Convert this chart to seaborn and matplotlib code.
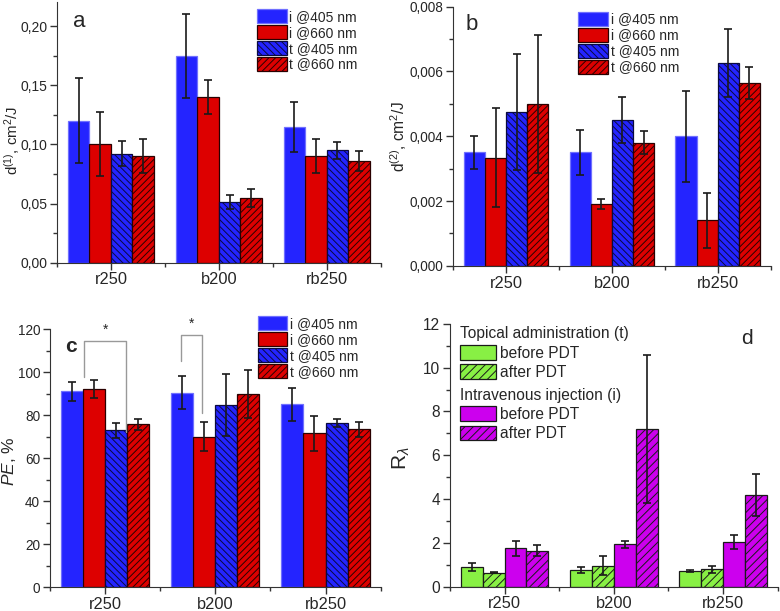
import numpy as np
import pandas as pd
import matplotlib
matplotlib.use("Agg")
import matplotlib.pyplot as plt
import seaborn as sns
from matplotlib.container import BarContainer
from matplotlib.ticker import FuncFormatter, MultipleLocator

# ---------------- data ----------------
groups = ["r250", "b200", "rb250"]
series_ab = ["i @405 nm", "i @660 nm", "t @405 nm", "t @660 nm"]

# panel a: d(1), cm2/J
d1_i405 = [0.120, 0.175, 0.115]
d1_i660 = [0.100, 0.140, 0.090]
d1_t405 = [0.092, 0.051, 0.095]
d1_t660 = [0.090, 0.055, 0.086]
d1_i405_err = [0.036, 0.0355, 0.021]
d1_i660_err = [0.027, 0.0144, 0.0145]
d1_t405_err = [0.0105, 0.006, 0.007]
d1_t660_err = [0.0143, 0.0075, 0.0087]

# panel b: d(2), cm2/J
d2_i405 = [0.0035, 0.0035, 0.0040]
d2_i660 = [0.00333, 0.0019, 0.0014]
d2_t405 = [0.00475, 0.0045, 0.00625]
d2_t660 = [0.0050, 0.0038, 0.00565]
d2_i405_err = [0.0005, 0.0007, 0.0014]
d2_i660_err = [0.00153, 0.00015, 0.00085]
d2_t405_err = [0.00178, 0.0007, 0.00105]
d2_t660_err = [0.00213, 0.00036, 0.0005]

# panel c: PE, %
pe_i405 = [91.0, 90.4, 85.0]
pe_i660 = [92.0, 70.0, 71.5]
pe_t405 = [72.9, 84.7, 76.2]
pe_t660 = [75.7, 89.7, 73.4]
pe_i405_err = [4.3, 7.6, 7.6]
pe_i660_err = [4.1, 6.7, 8.1]
pe_t405_err = [3.5, 14.5, 1.8]
pe_t660_err = [2.6, 11.2, 3.5]

# panel d: R_lambda
series_d = ["t before PDT", "t after PDT", "i before PDT", "i after PDT"]
r_t_before = [0.88, 0.75, 0.72]
r_t_after = [0.64, 0.96, 0.79]
r_i_before = [1.75, 1.93, 2.04]
r_i_after = [1.63, 7.20, 4.17]
r_t_before_err = [0.18, 0.14, 0.05]
r_t_after_err = [0.04, 0.44, 0.15]
r_i_before_err = [0.34, 0.15, 0.32]
r_i_after_err = [0.25, 3.37, 0.96]

# ---------------- style ----------------
sns.set_style("ticks")
plt.rcParams["font.family"] = ["Liberation Sans", "DejaVu Sans"]
plt.rcParams["mathtext.fontset"] = "custom"
plt.rcParams["mathtext.rm"] = "Liberation Sans"
plt.rcParams["mathtext.it"] = "Liberation Sans:italic"
plt.rcParams["hatch.linewidth"] = 0.7
plt.rcParams["axes.edgecolor"] = "#333333"

BLUE = "#2424FF"
RED = "#DD0000"
GREEN = "#88F044"
MAGENTA = "#CC00EE"
DARK = "#1a1a1a"

fig = plt.figure(figsize=(7.8, 6.11), dpi=100)
ax_a = fig.add_axes([0.073, 0.570, 0.415, 0.426])
ax_b = fig.add_axes([0.581, 0.565, 0.407, 0.424])
ax_c = fig.add_axes([0.064, 0.039, 0.424, 0.4225])
ax_d = fig.add_axes([0.577, 0.040, 0.420, 0.430])


def make_df(series_names, vals):
    rows = []
    for s, v in zip(series_names, vals):
        for g, y in zip(groups, v):
            rows.append({"group": g, "series": s, "value": y})
    return pd.DataFrame(rows)


def draw_panel(ax, series_names, vals, errs, colors, hatches, edgecolors,
               ytick_size):
    df = make_df(series_names, vals)
    sns.barplot(data=df, x="group", y="value", hue="series",
                hue_order=series_names, order=groups,
                palette=dict(zip(series_names, colors)),
                width=0.8, errorbar=None, saturation=1.0, ax=ax)
    if ax.get_legend() is not None:
        ax.get_legend().remove()
    bars = [c for c in ax.containers if isinstance(c, BarContainer)]
    for cont, h, ec, err in zip(bars, hatches, edgecolors, errs):
        xs, ys = [], []
        for bar in cont.patches:
            bar.set_hatch(h)
            bar.set_edgecolor(ec)
            bar.set_linewidth(0.9)
            xs.append(bar.get_x() + bar.get_width() / 2)
            ys.append(bar.get_height())
        ax.errorbar(xs, ys, yerr=err, fmt="none", ecolor=DARK,
                    elinewidth=1.2, capsize=3.0, capthick=1.2, zorder=5)
    ax.set_xlim(-0.5, 2.5)
    ax.set_xlabel("")
    ax.set_xticks([0, 1, 2])
    ax.set_xticklabels(groups)
    ax.set_xticks([-0.5, 0.5, 1.5, 2.5], minor=True)
    ax.tick_params(axis="x", which="major", length=5, width=1,
                   direction="out", labelsize=11.8, pad=2, color="#333333")
    ax.tick_params(axis="x", which="minor", length=3, width=1,
                   direction="out", color="#333333")
    ax.tick_params(axis="y", which="major", length=5, width=1,
                   direction="out", labelsize=ytick_size, pad=2,
                   color="#333333")
    ax.tick_params(axis="y", which="minor", length=3, width=1,
                   direction="out", color="#333333")
    sns.despine(ax=ax)
    return [c.patches[0] for c in bars]


hatch_ab = ["", "", "\\\\\\\\\\", "/////"]
edge_ab = ["#7070FF", "#2a0000", "#0a0a40", "#2a0000"]
colors_ab = [BLUE, RED, BLUE, RED]

# ---- panel a
h_a = draw_panel(ax_a, series_ab, [d1_i405, d1_i660, d1_t405, d1_t660],
                 [d1_i405_err, d1_i660_err, d1_t405_err, d1_t660_err],
                 colors_ab, hatch_ab, edge_ab, 10.0)
ax_a.set_ylim(0, 0.22)
ax_a.yaxis.set_major_locator(MultipleLocator(0.05))
ax_a.yaxis.set_minor_locator(MultipleLocator(0.025))
ax_a.yaxis.set_major_formatter(FuncFormatter(lambda v, p: f"{v:.2f}".replace(".", ",")))
ax_a.set_ylabel("d$^{(1)}$, cm$^2$/J", fontsize=10.8)
ax_a.yaxis.set_label_coords(-0.107, 0.47)
ax_a.text(0.07, 0.925, "a", transform=ax_a.transAxes, fontsize=16,
          ha="center", va="center")

# ---- panel b
h_b = draw_panel(ax_b, series_ab, [d2_i405, d2_i660, d2_t405, d2_t660],
                 [d2_i405_err, d2_i660_err, d2_t405_err, d2_t660_err],
                 colors_ab, hatch_ab, edge_ab, 9.8)
ax_b.set_ylim(0, 0.008)
ax_b.yaxis.set_major_locator(MultipleLocator(0.002))
ax_b.yaxis.set_minor_locator(MultipleLocator(0.001))
ax_b.yaxis.set_major_formatter(FuncFormatter(lambda v, p: f"{v:.3f}".replace(".", ",")))
ax_b.set_ylabel("d$^{(2)}$, cm$^2$/J", fontsize=11.2)
ax_b.yaxis.set_label_coords(-0.138, 0.5)
ax_b.text(0.06, 0.93, "b", transform=ax_b.transAxes, fontsize=16,
          ha="center", va="center")

# ---- panel c
h_c = draw_panel(ax_c, series_ab, [pe_i405, pe_i660, pe_t405, pe_t660],
                 [pe_i405_err, pe_i660_err, pe_t405_err, pe_t660_err],
                 colors_ab, hatch_ab, edge_ab, 9.8)
ax_c.set_ylim(0, 120)
ax_c.yaxis.set_major_locator(MultipleLocator(20))
ax_c.yaxis.set_minor_locator(MultipleLocator(10))
ax_c.set_ylabel("$PE$, %", fontsize=12.5)
ax_c.yaxis.set_label_coords(-0.097, 0.49)
ax_c.text(0.065, 0.934, "c", transform=ax_c.transAxes, fontsize=15,
          fontweight="bold", ha="center", va="center")

# significance brackets (panel c)
brackets = [
    # group index, left offset, right offset, left foot, top, right foot
    (0, -0.19, 0.19, 97.9, 114.4, 72.0),
    (1, -0.31, -0.12, 105.0, 117.0, 81.0),
]
for gi, lo, ro, yl, yt, yr in brackets:
    ax_c.plot([gi + lo, gi + lo, gi + ro, gi + ro], [yl, yt, yt, yr],
              color="#999999", lw=1.0, clip_on=False, zorder=6)
    ax_c.text(gi + (lo + ro) / 2, yt + 2.0, "*", ha="center", va="bottom",
              fontsize=10, clip_on=False)

# ---- panel d
hatch_d = ["", "////", "", "////"]
edge_d = [DARK, DARK, DARK, DARK]
colors_d = [GREEN, GREEN, MAGENTA, MAGENTA]
h_d = draw_panel(ax_d, series_d, [r_t_before, r_t_after, r_i_before, r_i_after],
                 [r_t_before_err, r_t_after_err, r_i_before_err, r_i_after_err],
                 colors_d, hatch_d, edge_d, 11.2)
ax_d.set_ylim(0, 12)
ax_d.yaxis.set_major_locator(MultipleLocator(2))
ax_d.yaxis.set_minor_locator(MultipleLocator(1))
ax_d.set_ylabel("R$_\\lambda$", fontsize=15)
ax_d.yaxis.set_label_coords(-0.115, 0.49)
ax_d.text(0.905, 0.943, "d", transform=ax_d.transAxes, fontsize=15,
          ha="center", va="center")

# ---------------- legends ----------------
leg_kw = dict(frameon=False, fontsize=10, handlelength=2.15, handleheight=1.15,
              labelspacing=0.1, handletextpad=0.2, borderpad=0,
              borderaxespad=0, loc="upper left")
ax_a.legend(h_a, series_ab, bbox_to_anchor=(0.617, 0.975), **leg_kw)
ax_b.legend(h_b, series_ab, bbox_to_anchor=(0.393, 0.98), **leg_kw)
lc = ax_c.legend(h_c, series_ab, bbox_to_anchor=(0.628, 1.05), **leg_kw)
lc.set_clip_on(False)

leg_d_kw = dict(frameon=False, fontsize=11.2, title_fontsize=11.2,
                handlelength=2.3, handleheight=1.1, labelspacing=0.22,
                handletextpad=0.3, borderpad=0, borderaxespad=0,
                loc="upper left", alignment="left")
leg1 = ax_d.legend(h_d[:2], ["before PDT", "after PDT"],
                   title="Topical administration (t)",
                   bbox_to_anchor=(0.03, 0.99), **leg_d_kw)
ax_d.add_artist(leg1)
ax_d.legend(h_d[2:], ["before PDT", "after PDT"],
            title="Intravenous injection (i)",
            bbox_to_anchor=(0.03, 0.756), **leg_d_kw)

fig.savefig("out.png", dpi=100)
